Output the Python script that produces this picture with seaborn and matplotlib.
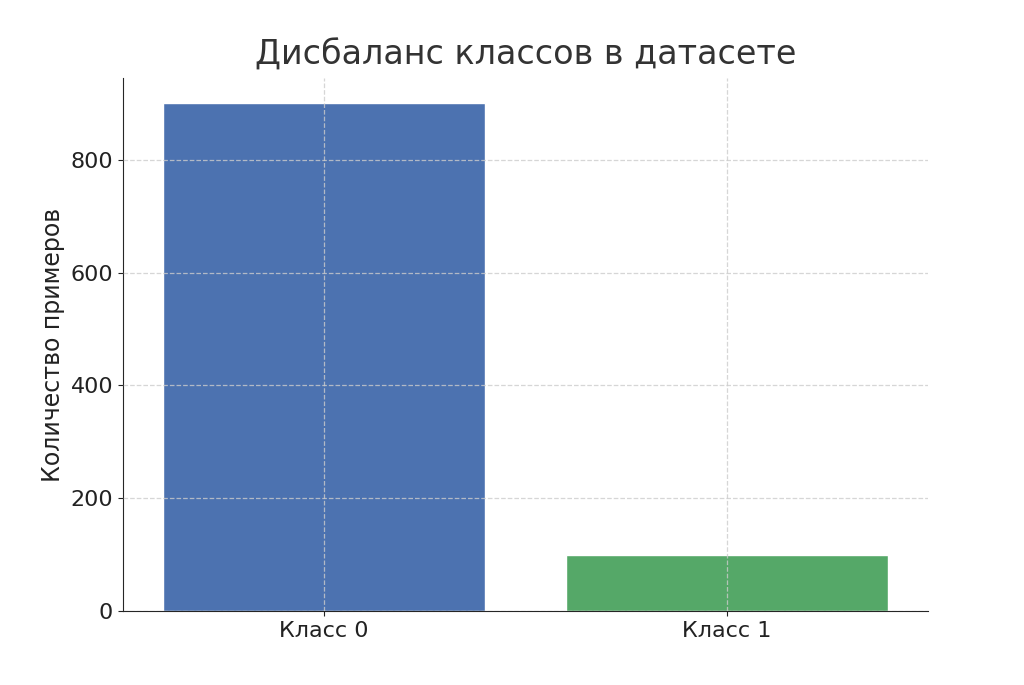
import matplotlib
matplotlib.use("Agg")
import matplotlib.pyplot as plt
import seaborn as sns
import pandas as pd

categories = ["Класс 0", "Класс 1"]
counts = [900, 100]
colors = ["#4c72b0", "#55a868"]

sns.set_style("ticks")
plt.rcParams['font.family'] = ['DejaVu Sans']
fig = plt.figure(figsize=(10.24, 6.85), dpi=100)
ax = fig.add_axes([0.12, 0.108, 0.786, 0.778])
df = pd.DataFrame({"cls": categories, "n": counts})
sns.barplot(data=df, x="cls", y="n", hue="cls", palette=colors, legend=False,
            width=0.8, saturation=1, ax=ax)
ax.set_axisbelow(False)
ax.grid(True, linestyle="--", color="#cccccc", linewidth=0.9, alpha=0.8)
ax.set_ylim(0, 945)
ax.set_yticks([0, 200, 400, 600, 800])
ax.set_xlabel("")
ax.set_ylabel("Количество примеров", fontsize=17, color="#222222")
ax.set_title("Дисбаланс классов в датасете", fontsize=24, color="#333333", pad=10)
ax.tick_params(labelsize=16, colors="#222222")
sns.despine(ax=ax)
fig.savefig("out.png", dpi=100)
